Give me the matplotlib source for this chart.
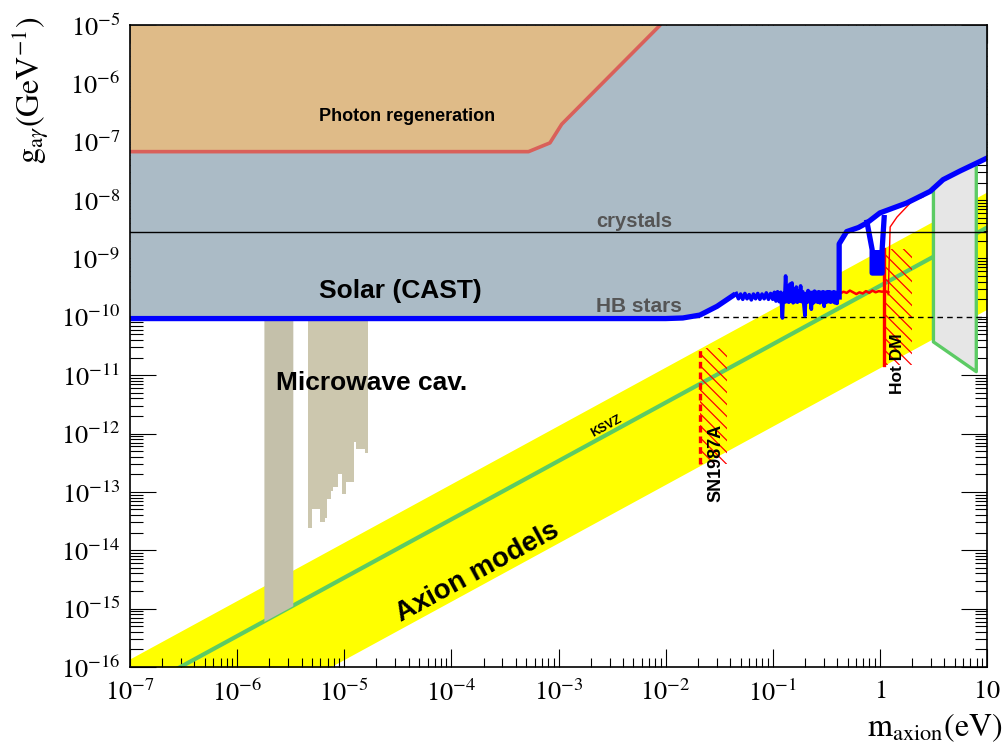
import numpy as np
import matplotlib
matplotlib.use('Agg')
import matplotlib.pyplot as plt
from matplotlib.patches import Rectangle
from matplotlib.ticker import LogLocator, FuncFormatter, NullFormatter

plt.rcParams['mathtext.fontset'] = 'stix'
plt.rcParams['font.family'] = ['Liberation Sans', 'DejaVu Sans']

# ---------------- data (log10 values) ----------------
x_range = [1e-7, 10.0]
y_range = [1e-16, 1e-5]

# Photon regeneration limit
regen_logm = [-7.0, -3.28, -3.08, -2.97, -2.05]
regen_logg = [-7.17, -7.17, -7.02, -6.70, -5.0]

# CAST (solar) limit: smooth low-mass part
cast_lo_logm = [-7.0, -2.0, -1.84, -1.68, -1.52, -1.35]
cast_lo_logg = [-10.03, -10.03, -10.02, -9.97, -9.82, -9.61]

# CAST noisy 4He part
noise_logm = [-1.34, -1.32, -1.30, -1.28, -1.26, -1.24, -1.22, -1.20, -1.18, -1.16,
              -1.14, -1.12, -1.10, -1.08, -1.06, -1.04, -1.02, -1.00,
              -0.985, -0.97, -0.955, -0.94, -0.925, -0.91,
              -0.90, -0.89, -0.88, -0.87, -0.86, -0.85, -0.84, -0.83, -0.82, -0.81,
              -0.80, -0.79, -0.78, -0.77, -0.76, -0.75, -0.74, -0.73, -0.72, -0.71,
              -0.70, -0.69, -0.68, -0.67, -0.66, -0.65, -0.64, -0.63, -0.62, -0.61,
              -0.60, -0.59, -0.58, -0.57, -0.56, -0.55, -0.54, -0.53, -0.52, -0.51,
              -0.50, -0.49, -0.48, -0.47, -0.46, -0.45, -0.44, -0.43, -0.42, -0.41,
              -0.40, -0.39]
noise_logg = [-9.60, -9.69, -9.61, -9.70, -9.60, -9.69, -9.62, -9.71, -9.61, -9.69,
              -9.60, -9.70, -9.61, -9.69, -9.59, -9.70, -9.60, -9.70,
              -9.58, -9.73, -9.57, -9.74, -9.58, -10.02,
              -9.60, -9.75, -9.30, -9.74, -9.48, -9.75, -9.44, -9.73, -9.42, -9.76,
              -9.54, -9.74, -9.49, -9.75, -9.56, -9.73, -9.47, -9.74, -9.57, -9.78,
              -9.98, -9.60, -9.75, -9.55, -9.74, -9.58, -9.87, -9.58, -9.76, -9.56,
              -9.74, -9.58, -9.75, -9.57, -9.76, -9.58, -9.74, -9.57, -9.82, -9.58,
              -9.75, -9.57, -9.74, -9.57, -9.75, -9.58, -9.74, -9.57, -9.76, -9.58,
              -9.77, -9.60]

# CAST 3He / high-mass part
cast_hi_logm = [-0.38, -0.38, -0.31, -0.20, -0.12, 0.0, 0.25, 0.47, 0.59, 0.75, 0.91, 1.0]
cast_hi_logg = [-9.66, -8.75, -8.54, -8.47, -8.39, -8.22, -8.05, -7.85, -7.65, -7.50, -7.36, -7.28]

# CAST 3He narrow dip
dip_logm = [-0.12, -0.072, -0.072, 0.021, 0.021, 0.04]
dip_logg = [-8.38, -8.85, -9.25, -9.25, -8.85, -8.30]

# red noisy limit
red_logm = [-0.37, -0.34, -0.31, -0.28, -0.25, -0.22, -0.19, -0.16, -0.13, -0.10,
            -0.07, -0.04, -0.01, 0.02, 0.05, 0.08]
red_logg = [-9.60, -9.57, -9.59, -9.55, -9.58, -9.61, -9.58, -9.60, -9.56, -9.59,
            -9.55, -9.58, -9.56, -9.57, -9.56, -9.58]

# thin red line (Tokyo helioscope)
tokyo_logm = [0.078, 0.096, 0.16, 0.31, 0.40]
tokyo_logg = [-9.62, -8.46, -8.29, -8.00, -7.95]

# Microwave cavity limits
admx_logm = [-5.75, -5.48]
cav2_logm = [-5.338, -5.301, -5.226, -5.179, -5.161, -5.123, -5.105, -5.058,
             -5.021, -4.983, -4.909, -4.890, -4.806, -4.778]
cav2_logg = [-13.61, -13.30, -13.51, -13.44, -13.13, -12.98, -12.91, -12.69,
             -13.03, -12.83, -12.14, -12.26, -12.33]
cav_top_logg = -10.0

# Axion model band and KSVZ (offsets of log g - log m)
band_top_off = -8.86
band_bot_off = -10.87
ksvz_off = -9.47

# Horizontal limits
crystals_logg = -8.54
hb_logg = -10.0

# SN1987A and Hot DM
sn_logm = [-1.68, -1.43]
sn_logg = [-12.53, -10.53]
hdm_logm = [0.04, 0.30]
hdm_logg = [-10.82, -8.84]

# Light-grey box (telescope search)
box_logm = [0.50, 0.90, 0.90, 0.50]
box_logg = [-7.79, -7.40, -10.94, -10.43]

# ---------------- figure ----------------
P = lambda a: 10.0 ** np.asarray(a, dtype=float)

fig = plt.figure(figsize=(10.06, 7.45), dpi=100)
ax = fig.add_axes([130 / 1006, 78 / 745, 857 / 1006, 642 / 745])
ax.set_xscale('log')
ax.set_yscale('log')
ax.set_xlim(*x_range)
ax.set_ylim(*y_range)

BLUE = '#0000ff'
GREEN = '#5ccb64'
RED = '#ff0000'

# axion band
mband = np.array(x_range)
ax.fill_between(mband, mband * 10 ** band_bot_off, mband * 10 ** band_top_off,
                color='#ffff00', lw=0, zorder=1)
ax.plot(mband, mband * 10 ** ksvz_off, color=GREEN, lw=3.0, zorder=2)

# microwave cavities
admx_m = P(admx_logm)
ax.fill_between(admx_m, admx_m * 10 ** ksvz_off, 10 ** cav_top_logg,
                color='#c4c0aa', lw=0, zorder=3)
cav2_m = P(cav2_logm)
cav2_g = P(cav2_logg + [cav2_logg[-1]])
ax.fill_between(cav2_m, cav2_g, 10 ** cav_top_logg, step='post',
                color='#ccc7ae', lw=0, zorder=3)

# CAST grey region
cm = P(cast_lo_logm + noise_logm + cast_hi_logm)
cg = P(cast_lo_logg + noise_logg + cast_hi_logg)
ax.fill_between(cm, cg, y_range[1], color='#abbbc6', lw=0, zorder=4)

# photon regeneration
rm, rg = P(regen_logm), P(regen_logg)
ax.fill_between(rm, rg, y_range[1], color='#dfbb88', lw=0, zorder=5)
ax.plot(rm, rg, color='#d9605a', lw=2.6, zorder=5.5, solid_capstyle='butt')

# light grey box
bm, bg = P(box_logm), P(box_logg)
ax.fill(bm, bg, color='#e6e6e6', lw=0, zorder=6)
ax.plot([bm[0], bm[3], bm[2], bm[1]], [bg[0], bg[3], bg[2], bg[1]],
        color=GREEN, lw=2.4, zorder=6.2)


def hatch_rect(m0, m1, g0, g1, spacing=12.0):
    """ROOT-like '\\' hatching of a rectangle given in data coordinates."""
    rect = Rectangle((m0, g0), m1 - m0, g1 - g0, transform=ax.transData,
                     facecolor='none', edgecolor='none')
    ax.add_patch(rect)
    x0, y0 = ax.transData.transform((m0, g0))
    x1, y1 = ax.transData.transform((m1, g1))
    h = y1 - y0
    inv = ax.transData.inverted()
    for c in np.arange(x0 - h + 3, x1 + spacing, spacing):
        pts = inv.transform([(c, y1), (c + h, y0)])
        ln, = ax.plot(pts[:, 0], pts[:, 1], color=RED, lw=0.9, zorder=6.3)
        ln.set_clip_path(rect)


# SN1987A
sm, sg = P(sn_logm), P(sn_logg)
hatch_rect(sm[0], sm[1], sg[0], sg[1])
ax.plot([sm[0], sm[0]], sg, color=RED, lw=2.4, ls=(0, (2.0, 1.2)), zorder=6.4)

# Hot DM
hm, hg = P(hdm_logm), P(hdm_logg)
hatch_rect(hm[0], hm[1], hg[0], hg[1])
ax.plot([hm[0], hm[0]], hg, color=RED, lw=2.4, zorder=6.4)

# HB stars line
ax.axhline(10 ** hb_logg, color='black', lw=1.0, ls=(0, (4, 3)), zorder=7)

# red lines
ax.plot(P(red_logm), P(red_logg), color=RED, lw=1.8, zorder=7.5)
ax.plot(P(tokyo_logm), P(tokyo_logg), color=RED, lw=1.0, zorder=7.5)

# CAST blue lines
ax.plot(P(cast_lo_logm), P(cast_lo_logg), color=BLUE, lw=3.8, zorder=8,
        solid_joinstyle='round', solid_capstyle='butt')
ax.plot(P(noise_logm), P(noise_logg), color=BLUE, lw=2.6, zorder=8)
ax.plot(P(cast_hi_logm), P(cast_hi_logg), color=BLUE, lw=3.8, zorder=8,
        solid_joinstyle='round')
ax.plot(P(dip_logm), P(dip_logg), color=BLUE, lw=3.8, zorder=8)
ax.fill_between(P([dip_logm[1], dip_logm[3]]), 10 ** dip_logg[2], 10 ** dip_logg[1],
                color=BLUE, lw=0, zorder=8)

# crystals line
ax.axhline(10 ** crystals_logg, color='black', lw=1.0, zorder=8.5)

# ---------------- texts ----------------
ax.text(10 ** -4.41, 10 ** -6.575, 'Photon regeneration', fontsize=13, fontweight='bold',
        ha='center', va='center', zorder=9)
ax.text(10 ** -4.48, 10 ** -9.555, 'Solar (CAST)', fontsize=19, fontweight='bold',
        ha='center', va='center', zorder=9)
ax.text(10 ** -4.74, 10 ** -11.13, 'Microwave cav.', fontsize=19, fontweight='bold',
        ha='center', va='center', zorder=9)
ax.text(10 ** -2.65, 10 ** -8.37, 'crystals', fontsize=14.5, fontweight='bold',
        color='#555555', ha='left', va='center', zorder=9)
ax.text(10 ** -2.65, 10 ** -9.83, 'HB stars', fontsize=15, fontweight='bold',
        color='#555555', ha='left', va='center', zorder=9)

p1 = ax.transData.transform((1e-4, 1e-14))
p2 = ax.transData.transform((1e-2, 1e-12))
ang = np.degrees(np.arctan2(p2[1] - p1[1], p2[0] - p1[0]))
ax.text(10 ** -3.76, 10 ** -14.38, 'Axion models', fontsize=20, fontweight='bold',
        rotation=ang, rotation_mode='anchor', ha='center', va='center', zorder=9)
ax.text(10 ** -2.55, 10 ** -11.88, 'KSVZ', fontsize=9, fontweight='bold',
        rotation=ang, rotation_mode='anchor', ha='center', va='center', zorder=9)
ax.text(10 ** -1.53, 10 ** -12.5, 'SN1987A', fontsize=13, fontweight='bold',
        rotation=90, ha='center', va='center', zorder=9)
ax.text(10 ** 0.162, 10 ** -10.80, 'Hot DM', fontsize=12.5, fontweight='bold',
        rotation=90, ha='center', va='center', zorder=9)

# ---------------- axes styling ----------------
for axis in (ax.xaxis, ax.yaxis):
    axis.set_major_locator(LogLocator(base=10, numticks=30))
    axis.set_minor_locator(LogLocator(base=10, subs=np.arange(2, 10), numticks=300))
    axis.set_minor_formatter(NullFormatter())


def fmt(v, pos):
    e = int(round(np.log10(v)))
    if e == 0:
        return r'$1$'
    if e == 1:
        return r'$10$'
    return r'$10^{%d}$' % e


ax.xaxis.set_major_formatter(FuncFormatter(fmt))
ax.yaxis.set_major_formatter(FuncFormatter(fmt))

ax.tick_params(which='both', direction='in', top=True, right=True, width=0.8, color='black')
ax.tick_params(axis='x', which='major', length=13, pad=9, labelsize=19)
ax.tick_params(axis='x', which='minor', length=6.5)
ax.tick_params(axis='y', which='major', length=18.5, pad=7, labelsize=19)
ax.tick_params(axis='y', which='minor', length=9)
for s in ax.spines.values():
    s.set_linewidth(1.2)
    s.set_zorder(10)

fig.text(30 / 1006, 1 - 90 / 745, r'$\mathrm{g}_{\mathrm{a}\gamma}\mathrm{(GeV^{-1})}$',
         rotation=90, ha='center', va='center', fontsize=23)
fig.text(0.997, 1 - 728 / 745, r'$\mathrm{m}_{\mathrm{axion}}\mathrm{(eV)}$',
         ha='right', va='center', fontsize=23)

fig.savefig('out.png', dpi=100)
